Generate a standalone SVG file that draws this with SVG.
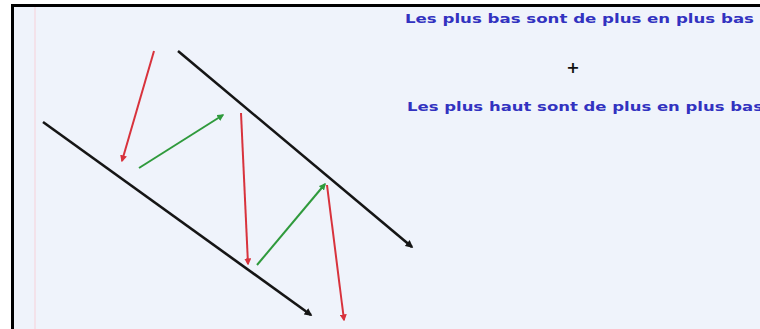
<svg xmlns="http://www.w3.org/2000/svg" width="760" height="329" viewBox="0 0 760 329">
<defs>
<style>
.blk{stroke:#151515;stroke-width:2.6;fill:none}
.red{stroke:#d8323c;stroke-width:2;fill:none}
.grn{stroke:#2f9a3c;stroke-width:2;fill:none}
.t{font-family:"DejaVu Sans",Verdana,sans-serif;font-weight:bold;font-size:13px;fill:#3232c0}
</style>
<marker id="ab" viewBox="0 0 10 10" refX="8" refY="5" markerWidth="3" markerHeight="3" orient="auto"><path d="M0,0L10,5L0,10z" fill="#151515"/></marker>
<marker id="ar" viewBox="0 0 10 10" refX="8" refY="5" markerWidth="3.5" markerHeight="3.5" orient="auto"><path d="M0,0L10,5L0,10z" fill="#d8323c"/></marker>
<marker id="ag" viewBox="0 0 10 10" refX="8" refY="5" markerWidth="3.5" markerHeight="3.5" orient="auto"><path d="M0,0L10,5L0,10z" fill="#2f9a3c"/></marker>
</defs>
<rect x="0" y="0" width="760" height="329" fill="#ffffff"/>
<rect x="12" y="5" width="748" height="324" fill="#eff3fb"/>
<line x1="35" y1="7" x2="35" y2="329" stroke="#f3e2ea" stroke-width="2"/>
<path d="M12.5,329V5.5H760" stroke="#000" stroke-width="3" fill="none"/>
<g id="connectors">
<line class="blk" x1="43" y1="122" x2="311" y2="315" marker-end="url(#ab)"/>
<line class="blk" x1="178" y1="51" x2="412" y2="247" marker-end="url(#ab)"/>
<line class="red" x1="154" y1="51" x2="122" y2="161" marker-end="url(#ar)"/>
<line class="grn" x1="139" y1="168" x2="223" y2="115" marker-end="url(#ag)"/>
<line class="red" x1="241" y1="113" x2="248" y2="264" marker-end="url(#ar)"/>
<line class="grn" x1="257" y1="265" x2="325" y2="184" marker-end="url(#ag)"/>
<line class="red" x1="327" y1="185" x2="344" y2="320" marker-end="url(#ar)"/>
</g>
<g id="label1"><text class="t" x="405" y="23" textLength="349" lengthAdjust="spacingAndGlyphs">Les plus bas sont de plus en plus bas</text></g>
<g id="plus"><text x="573" y="73" font-family="DejaVu Sans,sans-serif" font-weight="bold" font-size="16" fill="#111" text-anchor="middle">+</text></g>
<g id="label2"><text class="t" x="407" y="111" textLength="356" lengthAdjust="spacingAndGlyphs">Les plus haut sont de plus en plus bas</text></g>
</svg>
